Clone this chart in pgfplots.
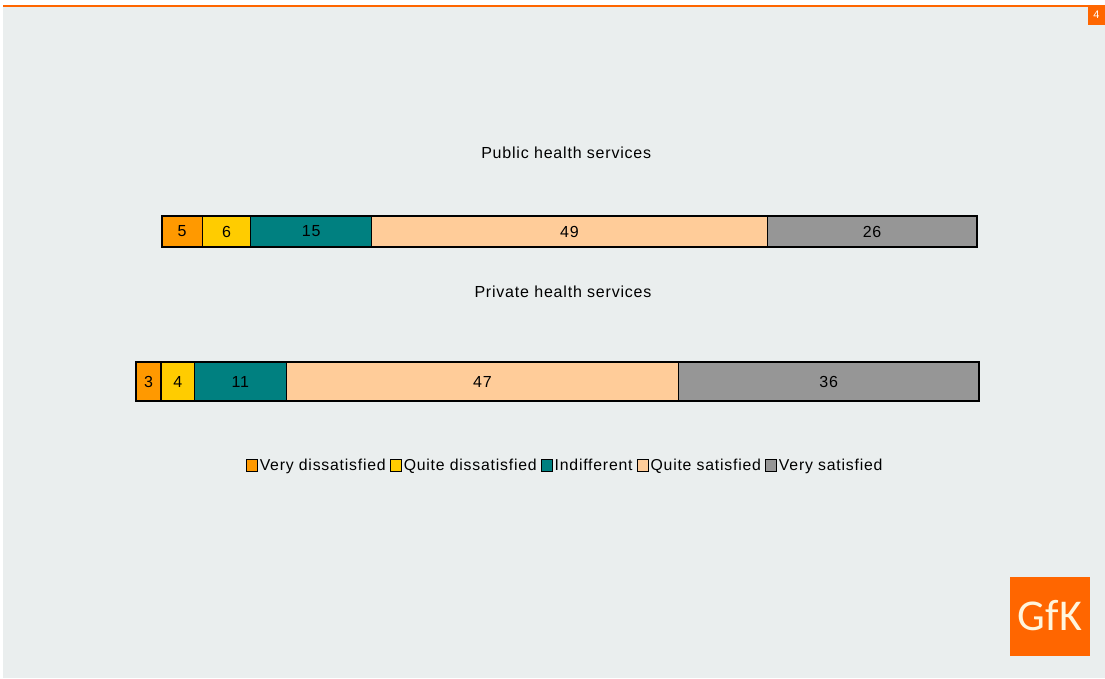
\documentclass[border=0pt]{standalone}
\usepackage{fontspec}
\setmainfont{Liberation Sans}
\newfontfamily\spaced[LetterSpace=5]{Liberation Sans}
\newfontfamily\logofont{Carlito}
\usepackage{pgfplots}
\pgfplotsset{compat=1.18}

\definecolor{bg}{RGB}{234,238,238}
\definecolor{gfk}{RGB}{255,102,0}
\definecolor{vdis}{RGB}{255,153,0}
\definecolor{qdis}{RGB}{255,204,0}
\definecolor{indif}{RGB}{0,128,128}
\definecolor{qsat}{RGB}{255,204,153}
\definecolor{vsat}{RGB}{150,150,150}

\pgfplotsset{
  hbar/.style={
    xbar stacked, scale only axis, hide axis,
    xmin=0, xmax=101, ymin=-0.5, ymax=0.5,
    enlargelimits=false, clip=false,
    point meta=explicit symbolic,
    nodes near coords,
    every node near coord/.append style={font=\spaced\fontsize{16}{18}\selectfont, text=black, anchor=center},
    title style={font=\spaced\fontsize{16}{18}\selectfont, anchor=center},
  },
  seg/.style={fill=#1, draw=black, line width=1.2pt},
}

\begin{document}
\begin{tikzpicture}
% page
\fill[white] (0,0) rectangle (1105pt,678pt);
\fill[bg] (3pt,0) rectangle (1105pt,670.7pt);
\fill[gfk] (3pt,670.7pt) rectangle (1105pt,673pt);
\fill[gfk] (1088pt,653pt) rectangle (1105pt,673pt);
\node[text=white, font=\fontsize{11}{12}\selectfont] at (1096.5pt,663pt) {4};

% public health services
\begin{axis}[hbar, at={(162pt,431pt)}, anchor=south west,
  width=815pt, height=31pt, bar width=31pt,
  title={Public health services},
  title style={at={(0.496,1)}, yshift=57pt}]
\addplot[seg=vdis]  coordinates {(5,0) [5]};
\addplot[seg=qdis]  coordinates {(6,0) [6]};
\addplot[seg=indif] coordinates {(15,0) [15]};
\addplot[seg=qsat]  coordinates {(49,0) [49]};
\addplot[seg=vsat]  coordinates {(26,0) [26]};
\end{axis}

% private health services
\begin{axis}[hbar, at={(136pt,277pt)}, anchor=south west,
  width=843pt, height=39pt, bar width=39pt,
  title={Private health services},
  title style={at={(0.5065,1)}, yshift=64pt},
  legend columns=5,
  legend style={draw=none, fill=none, at={(0.509,-1.66)}, anchor=center,
    font=\spaced\fontsize{15.8}{18}\selectfont, inner sep=0pt,
    /tikz/every even column/.append style={column sep=3pt},
    nodes={inner xsep=1.5pt}},
  legend image code/.code={\draw[#1, line width=1pt] (0pt,-6pt) rectangle (11pt,6pt);}]
\addplot[seg=vdis]  coordinates {(3,0) [3]};
\addplot[seg=qdis]  coordinates {(4,0) [4]};
\addplot[seg=indif] coordinates {(11,0) [11]};
\addplot[seg=qsat]  coordinates {(47,0) [47]};
\addplot[seg=vsat]  coordinates {(36,0) [36]};
\legend{Very dissatisfied, Quite dissatisfied, Indifferent, Quite satisfied, Very satisfied}
\end{axis}

% logo
\fill[gfk] (1010pt,22pt) rectangle (1090pt,101pt);
\node[text={rgb,255:red,255;green,245;blue,220}, font=\logofont\fontsize{44}{44}\selectfont] at (1050pt,62pt) {GfK};
\end{tikzpicture}
\end{document}
